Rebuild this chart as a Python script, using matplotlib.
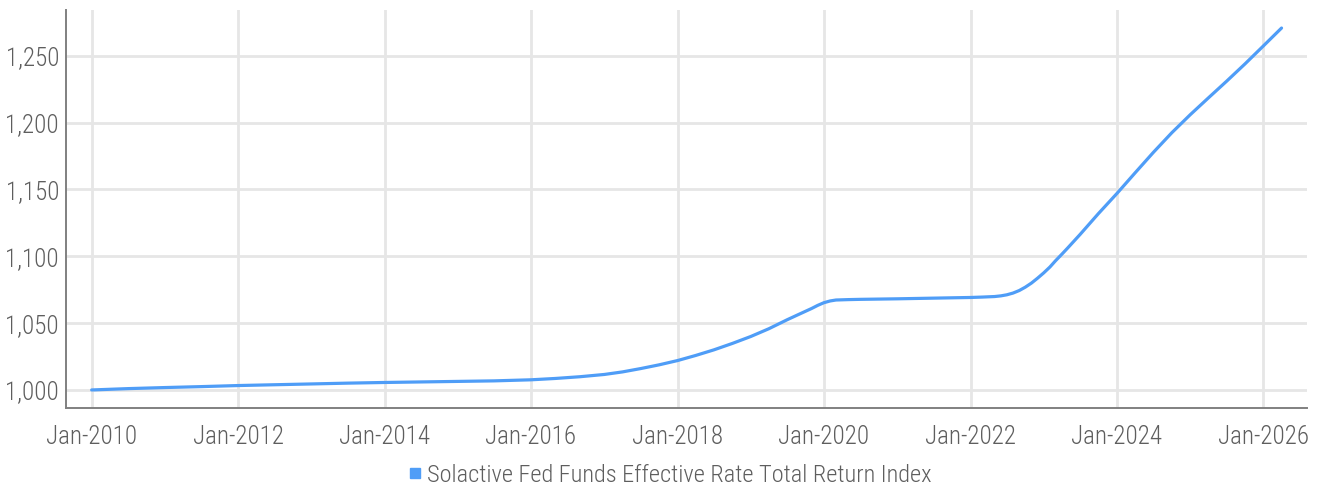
import datetime as dt
import matplotlib
matplotlib.use("Agg")
import matplotlib.pyplot as plt
import matplotlib.dates as mdates
from matplotlib.lines import Line2D
from matplotlib.ticker import FuncFormatter

# ---- data ----
dates = [
    "2010-01", "2010-07", "2011-01", "2011-07", "2012-01", "2012-07",
    "2013-01", "2013-07", "2014-01", "2014-07", "2015-01", "2015-07",
    "2016-01", "2016-05", "2016-09", "2017-01", "2017-04", "2017-07",
    "2017-10", "2018-01", "2018-04", "2018-07", "2018-10", "2019-01",
    "2019-04", "2019-07", "2019-09", "2019-11", "2019-12", "2020-01",
    "2020-02", "2020-03", "2020-05", "2020-07", "2021-01", "2021-07",
    "2022-01", "2022-03", "2022-05", "2022-06", "2022-07", "2022-08",
    "2022-09", "2022-10", "2022-11", "2022-12", "2023-01", "2023-02",
    "2023-03", "2023-04", "2023-05", "2023-07", "2023-10", "2024-01",
    "2024-04", "2024-07", "2024-10", "2025-01", "2025-04", "2025-07",
    "2025-10", "2026-01", "2026-04",
]
values = [
    1000.0, 1001.0, 1001.8, 1002.5, 1003.3, 1003.9,
    1004.5, 1005.1, 1005.6, 1006.0, 1006.4, 1006.8,
    1007.6, 1008.6, 1009.9, 1011.6, 1013.5, 1016.0,
    1018.8, 1022.0, 1025.8, 1030.0, 1034.8, 1040.0,
    1045.8, 1052.5, 1056.8, 1061.0, 1063.3, 1065.3,
    1066.6, 1067.3, 1067.6, 1067.8, 1068.2, 1068.7,
    1069.2, 1069.5, 1069.9, 1070.4, 1071.2, 1072.5,
    1074.4, 1076.9, 1080.0, 1083.6, 1087.6, 1092.0,
    1096.7, 1101.5, 1106.3, 1116.3, 1132.0, 1147.0,
    1162.5, 1177.8, 1192.5, 1206.0, 1218.5, 1231.0,
    1244.0, 1257.5, 1270.8,
]
series_name = "Solactive Fed Funds Effective Rate Total Return Index"
y_ticks = [1000, 1050, 1100, 1150, 1200, 1250]
x_tick_years = [2010, 2012, 2014, 2016, 2018, 2020, 2022, 2024, 2026]

# ---- style ----
LINE_C = "#4F9DF7"
GRID_C = "#E6E6E6"
SPINE_C = "#808080"
TEXT_C = "#5E5E5E"
FONT = ["Roboto Condensed", "Liberation Sans Narrow", "Roboto", "DejaVu Sans"]

x = [dt.datetime.strptime(d, "%Y-%m") for d in dates]

fig = plt.figure(figsize=(13.19, 4.92), dpi=100)
ax = fig.add_axes([66 / 1319, 84 / 492, 1241 / 1319, 398 / 492])

ax.plot(x, values, color=LINE_C, lw=2.3, solid_capstyle="round",
        solid_joinstyle="round", zorder=3)

ax.set_xlim(mdates.date2num(dt.datetime(2010, 1, 1)) - 128,
            mdates.date2num(dt.datetime(2026, 1, 1)) + 217)
ax.set_ylim(986.5, 1284.3)

ax.set_xticks([dt.datetime(y, 1, 1) for y in x_tick_years])
ax.xaxis.set_major_formatter(mdates.DateFormatter("%b-%Y"))
ax.set_yticks(y_ticks)
ax.yaxis.set_major_formatter(FuncFormatter(lambda v, p: f"{v:,.0f}"))

ax.grid(True, color=GRID_C, lw=2.0, zorder=0)
ax.set_axisbelow(True)
for s in ("top", "right"):
    ax.spines[s].set_visible(False)
for s in ("left", "bottom"):
    ax.spines[s].set_color(SPINE_C)
    ax.spines[s].set_linewidth(1.4)

ax.tick_params(axis="both", length=0, colors=TEXT_C, labelsize=18)
ax.tick_params(axis="x", pad=12)
ax.tick_params(axis="y", pad=5)
for lab in ax.get_xticklabels() + ax.get_yticklabels():
    lab.set_family(FONT)
    lab.set_fontweight("light")

handle = Line2D([], [], marker="s", linestyle="None", color=LINE_C,
                markersize=7.5)
leg = fig.legend([handle], [series_name], loc="center",
                 bbox_to_anchor=(0.5065, 0.034), frameon=False,
                 handletextpad=0.1, handlelength=0.8,
                 prop={"family": FONT, "size": 17.6, "weight": "light"})
for t in leg.get_texts():
    t.set_color(TEXT_C)

fig.savefig("out.png", dpi=100)
